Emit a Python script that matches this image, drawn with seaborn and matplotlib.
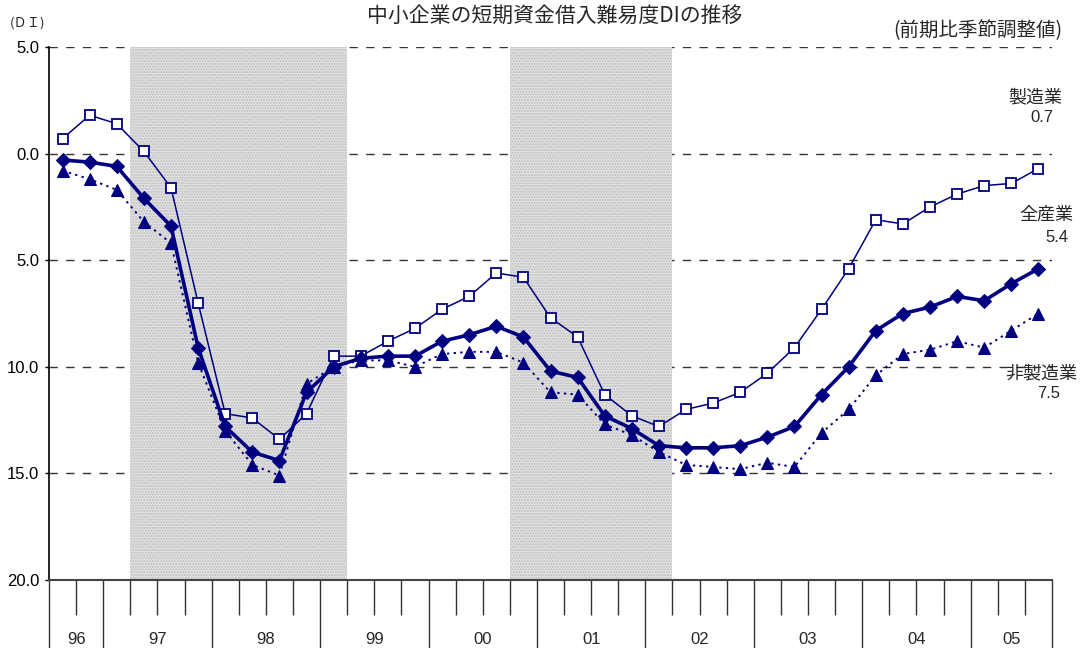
# librerias
import numpy as np
import pandas as pd
import matplotlib
matplotlib.use("Agg")
import matplotlib.pyplot as plt
import seaborn as sns
from matplotlib.ticker import FuncFormatter

# periodo (trimestral)
inicio = "1996Q3"
fin = "2005Q3"

# periodos de recesion (sombreado)
recesiones = [("1997Q2", "1999Q1"), ("2000Q4", "2002Q1")]

# series DI (eje invertido)
seizo = [-0.7, -1.8, -1.4, -0.1, 1.6, 7.0, 12.2, 12.4, 13.4, 12.2, 9.5, 9.5,
         8.8, 8.2, 7.3, 6.7, 5.6, 5.8, 7.7, 8.6, 11.3, 12.3, 12.8, 12.0, 11.7,
         11.2, 10.3, 9.1, 7.3, 5.4, 3.1, 3.3, 2.5, 1.9, 1.5, 1.4, 0.7]
zensangyo = [0.3, 0.4, 0.6, 2.1, 3.4, 9.1, 12.8, 14.0, 14.4, 11.2, 10.0, 9.6,
             9.5, 9.5, 8.8, 8.5, 8.1, 8.6, 10.2, 10.5, 12.3, 12.9, 13.7, 13.8, 13.8,
             13.7, 13.3, 12.8, 11.3, 10.0, 8.3, 7.5, 7.2, 6.7, 6.9, 6.1, 5.4]
hiseizo = [0.8, 1.2, 1.7, 3.2, 4.2, 9.8, 13.0, 14.6, 15.1, 10.8, 10.0, 9.7,
           9.7, 10.0, 9.4, 9.3, 9.3, 9.8, 11.2, 11.3, 12.7, 13.2, 14.0, 14.6, 14.7,
           14.8, 14.5, 14.7, 13.1, 12.0, 10.4, 9.4, 9.2, 8.8, 9.1, 8.3, 7.5]

y_ticks = [-5, 0, 5, 10, 15, 20]

titulo = "中小企業の短期資金借入難易度DIの推移"
nota = "(前期比季節調整値)"

# tema
sns.set_theme(style="ticks")
plt.rcParams["font.family"] = ["Liberation Sans", "Noto Sans CJK JP", "DejaVu Sans"]
plt.rcParams["hatch.linewidth"] = 1.0
cjk = ["Noto Sans CJK JP", "DejaVu Sans"]

trimestres = pd.period_range(inicio, fin, freq="Q")
n = len(trimestres)
x = np.arange(n)
df = pd.DataFrame({"x": x, "製造業": seizo, "全産業": zensangyo, "非製造業": hiseizo})

azul = "#000080"

W, H = 1080, 648
fig = plt.figure(figsize=(W / 100, H / 100), dpi=100)
ax = fig.add_axes([49 / W, 1 - 580 / H, (1052 - 49) / W, (580 - 47) / H])

# sombreado de recesiones (textura punteada)
for a, b in recesiones:
    ia = trimestres.get_loc(pd.Period(a, "Q"))
    ib = trimestres.get_loc(pd.Period(b, "Q"))
    ax.axvspan(ia - 0.5, ib + 0.5, facecolor="#e2e2e2", edgecolor="#bdbdbd",
               hatch="......", lw=0, zorder=1)

# lineas
sns.lineplot(data=df, x="x", y="製造業", ax=ax, color=azul, lw=1.1,
             marker="s", markersize=7.5, markerfacecolor="white",
             markeredgecolor=azul, markeredgewidth=1.3, zorder=3)
sns.lineplot(data=df, x="x", y="非製造業", ax=ax, color=azul, lw=1.4,
             linestyle=(0, (1.2, 2.2)), marker="^", markersize=8,
             markerfacecolor=azul, markeredgecolor=azul, zorder=4)
sns.lineplot(data=df, x="x", y="全産業", ax=ax, color=azul, lw=2.6,
             marker="D", markersize=7, markerfacecolor=azul,
             markeredgecolor=azul, zorder=5)

# ejes
ax.set_xlim(-0.5, n - 0.5)
ax.set_ylim(20, -5)
ax.set_yticks(y_ticks)
ax.yaxis.set_major_formatter(FuncFormatter(lambda v, p: f"{abs(v):.1f}"))
ax.yaxis.grid(True, linestyle=(0, (6, 6)), color="#333333", lw=1)
ax.xaxis.grid(False)
ax.set_axisbelow(True)
ax.set_xlabel("")
ax.set_ylabel("")

# ticks del eje x: limites de año (largos) y trimestres (cortos)
anios = trimestres.year
limites = [-0.5] + [i - 0.5 for i in range(1, n) if anios[i] != anios[i - 1]] + [n - 0.5]
menores = [k - 0.5 for k in range(n + 1) if (k - 0.5) not in limites]
ax.set_xticks(limites)
ax.set_xticklabels([])
ax.set_xticks(menores, minor=True)
ax.tick_params(axis="x", which="major", length=49, width=1, color="#333333")
ax.tick_params(axis="x", which="minor", length=25, width=1, color="#333333")
ax.tick_params(axis="y", length=3, width=1, labelsize=12, pad=4, colors="black")

for anio in sorted(set(anios)):
    centro = x[anios == anio].mean()
    ax.text(centro, -0.111, f"{anio % 100:02d}", transform=ax.get_xaxis_transform(),
            ha="center", va="center", fontsize=12)

sns.despine(ax=ax)
ax.spines["left"].set_color("black")
ax.spines["left"].set_linewidth(1.2)
ax.spines["bottom"].set_color("#444444")
ax.spines["bottom"].set_linewidth(1.5)


def px(xp, yp):
    return xp / W, 1 - yp / H


# textos
fig.text(*px(555, 16), titulo, ha="center", va="center", fontsize=15, family=cjk)
fig.text(*px(10, 23), "(ＤＩ)", ha="left", va="center", fontsize=9.5, family=cjk)
fig.text(*px(1062, 31), nota, ha="right", va="center", fontsize=14, family=cjk)

fig.text(*px(1062, 97), "製造業", ha="right", va="center", fontsize=13, family=cjk)
fig.text(*px(1053, 118), f"{seizo[-1]:.1f}", ha="right", va="center", fontsize=12)
fig.text(*px(1073, 215), "全産業", ha="right", va="center", fontsize=13, family=cjk)
fig.text(*px(1068, 237), f"{zensangyo[-1]:.1f}", ha="right", va="center", fontsize=12)
fig.text(*px(1077, 373), "非製造業", ha="right", va="center", fontsize=13, family=cjk)
fig.text(*px(1060, 394), f"{hiseizo[-1]:.1f}", ha="right", va="center", fontsize=12)

fig.savefig("out.png", dpi=100)
